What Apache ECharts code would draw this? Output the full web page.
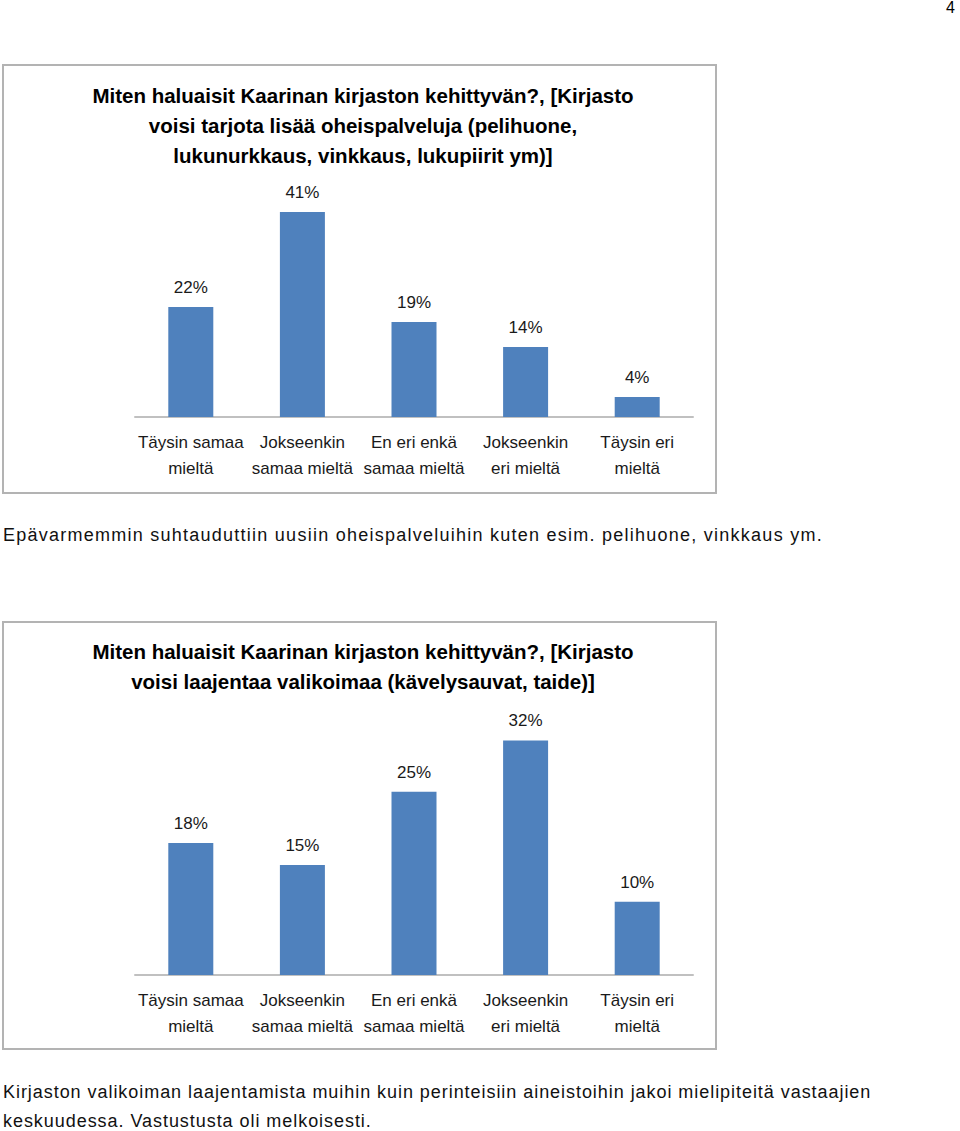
<!DOCTYPE html>
<html>
<head>
<meta charset="utf-8">
<script src="https://cdn.jsdelivr.net/npm/echarts@6/dist/echarts.min.js"></script>
<style>
html,body{margin:0;padding:0;background:#fff;}
#wrap{position:relative;width:960px;height:1131px;}
#c{position:absolute;left:0;top:0;width:960px;height:1131px;}
.txt{position:absolute;font-family:"Liberation Sans",Arial,sans-serif;color:#111;white-space:nowrap;}
#p1{left:3px;top:524px;font-size:18px;letter-spacing:1.25px;line-height:22px;}
#p2{left:3px;top:1078px;font-size:18px;letter-spacing:0.95px;line-height:29px;}
#pn{left:946px;top:0px;font-size:16px;line-height:16px;color:#000;}
</style>
</head>
<body>
<div id="wrap">
<div id="c"></div>
<div id="p1" class="txt"></div>
<div id="p2" class="txt"></div>
<div id="pn" class="txt"></div>
</div>
<script>
const categories = ['Täysin samaa\nmieltä', 'Jokseenkin\nsamaa mieltä', 'En eri enkä\nsamaa mieltä', 'Jokseenkin\neri mieltä', 'Täysin eri\nmieltä'];
const values1 = [22, 41, 19, 14, 4];
const values2 = [18, 15, 25, 32, 10];
const title1 = 'Miten haluaisit Kaarinan kirjaston kehittyvän?, [Kirjasto\nvoisi tarjota lisää oheispalveluja (pelihuone,\nlukunurkkaus, vinkkaus, lukupiirit ym)]';
const title2 = 'Miten haluaisit Kaarinan kirjaston kehittyvän?, [Kirjasto\nvoisi laajentaa valikoimaa (kävelysauvat, taide)]';
const note1 = 'Epävarmemmin suhtauduttiin uusiin oheispalveluihin kuten esim. pelihuone, vinkkaus ym.';
const note2Lines = ['Kirjaston valikoiman laajentamista muihin kuin perinteisiin aineistoihin jakoi mielipiteitä vastaajien', 'keskuudessa. Vastustusta oli melkoisesti.'];
const pageNumber = '4';

document.getElementById('p1').textContent = note1;
document.getElementById('p2').innerHTML = note2Lines.map(s => s.replace(/&/g,'&amp;').replace(/</g,'&lt;')).join('<br>');
document.getElementById('pn').textContent = pageNumber;

const FONT = '"Liberation Sans", Arial, sans-serif';
const chart = echarts.init(document.getElementById('c'), null, {renderer: 'svg'});

function xAxisFor(idx) {
  return {
    type: 'category', gridIndex: idx, data: categories,
    axisTick: {show: false},
    axisLine: {lineStyle: {color: '#c0c0c0', width: 2}},
    axisLabel: {interval: 0, color: '#1a1a1a', fontFamily: FONT, fontSize: 17, lineHeight: 26, margin: 12}
  };
}
function yAxisFor(idx, max) {
  return {type: 'value', gridIndex: idx, min: 0, max: max, show: false, splitLine: {show: false}};
}
function seriesFor(idx, data) {
  return {
    type: 'bar', xAxisIndex: idx, yAxisIndex: idx, data: data, barWidth: 45,
    itemStyle: {color: '#4f81bd'},
    label: {show: true, position: 'top', distance: 11, formatter: '{c}%', color: '#1a1a1a', fontFamily: FONT, fontSize: 17}
  };
}

chart.setOption({
  animation: false,
  title: [
    {text: title1, left: 358, top: 75, textAlign: 'center',
     textStyle: {fontFamily: FONT, fontSize: 20.5, fontWeight: 'bold', color: '#000', lineHeight: 30}},
    {text: title2, left: 358, top: 631, textAlign: 'center',
     textStyle: {fontFamily: FONT, fontSize: 20.5, fontWeight: 'bold', color: '#000', lineHeight: 30}}
  ],
  grid: [
    {left: 135, width: 558, top: 192, height: 225},
    {left: 135, width: 558, top: 718.5, height: 256.5}
  ],
  xAxis: [xAxisFor(0), xAxisFor(1)],
  yAxis: [yAxisFor(0, 45), yAxisFor(1, 35)],
  series: [seriesFor(0, values1), seriesFor(1, values2)],
  graphic: [
    {type: 'rect', z: -1, shape: {x: 3, y: 65, width: 713, height: 428},
     style: {fill: '#fff', stroke: '#b3b3b3', lineWidth: 2}},
    {type: 'rect', z: -1, shape: {x: 3, y: 622, width: 713, height: 427},
     style: {fill: '#fff', stroke: '#b3b3b3', lineWidth: 2}}
  ]
});
</script>
</body>
</html>
